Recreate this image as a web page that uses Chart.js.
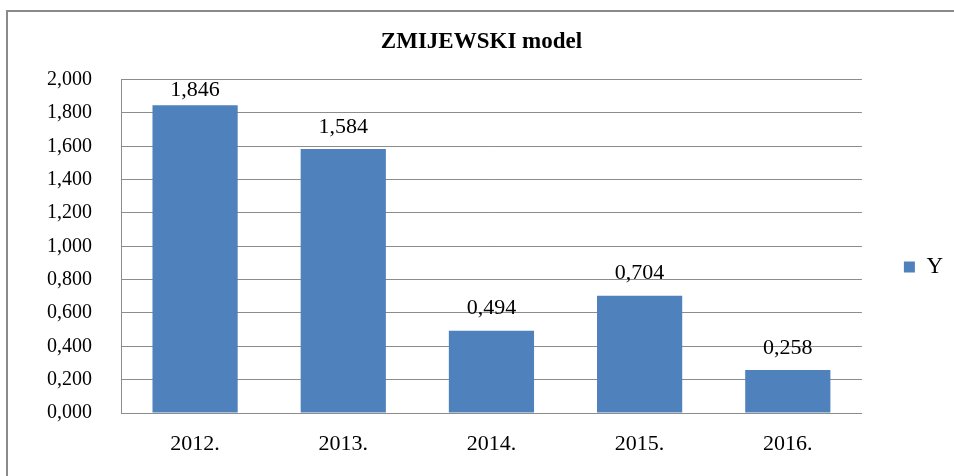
<!DOCTYPE html>
<html>
<head>
<meta charset="utf-8">
<script src="https://cdn.jsdelivr.net/npm/chart.js@4/dist/chart.umd.min.js"></script>
<style>
    html, body { margin: 0; padding: 0; background: #ffffff; }
    #wrap { position: relative; width: 954px; height: 476px; overflow: hidden; }
    /* outer chart frame, like the Excel chart border */
    #frame { position: absolute; left: 6px; top: 10px; width: 970px; height: 490px; border: 2px solid #8a8a8a; }
    #chart { position: absolute; left: 0; top: 0; }
</style>
</head>
<body>
<div id="wrap">
    <div id="frame"></div>
    <canvas id="chart" width="954" height="476"></canvas>
</div>
<script>
// ---- data ----
const years = ['2012.', '2013.', '2014.', '2015.', '2016.'];
const yValues = [1.846, 1.584, 0.494, 0.704, 0.258];
const seriesName = 'Y';
const chartTitle = 'ZMIJEWSKI model';

const SERIF = "'Liberation Serif', 'Times New Roman', serif";

// comma as decimal separator, 3 decimals
function fmt(v) {
    return Number(v).toFixed(3).replace('.', ',');
}

// value labels above each bar
const barLabels = {
    id: 'barLabels',
    afterDatasetsDraw(chart) {
        const ctx = chart.ctx;
        const meta = chart.getDatasetMeta(0);
        ctx.save();
        ctx.font = '22px ' + SERIF;
        ctx.fillStyle = '#000000';
        ctx.textAlign = 'center';
        ctx.textBaseline = 'middle';
        meta.data.forEach((bar, i) => {
            const y = Math.max(bar.y - 22, chart.chartArea.top + 11);
            ctx.fillText(fmt(yValues[i]), bar.x, y);
        });
        ctx.restore();
    }
};

// legend sits a bit below the middle of the canvas in the original
const legendShift = {
    id: 'legendShift',
    afterLayout(chart) {
        if (chart.legend) {
            chart.legend.top += 36;
            chart.legend.bottom += 36;
        }
    }
};

new Chart(document.getElementById('chart').getContext('2d'), {
    type: 'bar',
    data: {
        labels: years,
        datasets: [{
            label: seriesName,
            data: yValues,
            backgroundColor: '#4F81BD',
            borderWidth: 0,
            categoryPercentage: 1.0,
            barPercentage: 0.575,
            yAxisID: 'y'
        }]
    },
    options: {
        responsive: false,
        animation: false,
        layout: { padding: { left: 10, right: 1, top: 0, bottom: 14 } },
        plugins: {
            title: {
                display: true,
                text: chartTitle,
                color: '#000000',
                font: { family: SERIF, size: 23, weight: 'bold' },
                padding: { top: 28, bottom: 24 }
            },
            legend: {
                display: true,
                position: 'right',
                labels: {
                    color: '#000000',
                    font: { family: SERIF, size: 23 },
                    boxWidth: 11,
                    boxHeight: 11,
                    padding: 10
                }
            },
            tooltip: { enabled: false }
        },
        scales: {
            x: {
                grid: { display: false, drawTicks: false },
                border: { display: true, color: '#8c8c8c', width: 1 },
                ticks: {
                    color: '#000000',
                    font: { family: SERIF, size: 22 },
                    padding: 18
                },
                afterFit(scale) { scale.height = 476 - 14 - 413; }
            },
            y: {
                min: 0,
                max: 2,
                grid: { color: '#8c8c8c', drawTicks: false },
                border: { display: true, color: '#8c8c8c', width: 1 },
                ticks: {
                    stepSize: 0.2,
                    color: '#000000',
                    font: { family: SERIF, size: 20 },
                    padding: 29,
                    callback: (v) => fmt(v)
                },
                afterFit(scale) { scale.width = 111; }
            },
            // empty spacer between plot area and legend
            gap: {
                position: 'right',
                display: true,
                grid: { display: false, drawTicks: false },
                border: { display: false },
                ticks: { display: false },
                afterFit(scale) { scale.width = 32; }
            }
        }
    },
    plugins: [barLabels, legendShift]
});
</script>
</body>
</html>
